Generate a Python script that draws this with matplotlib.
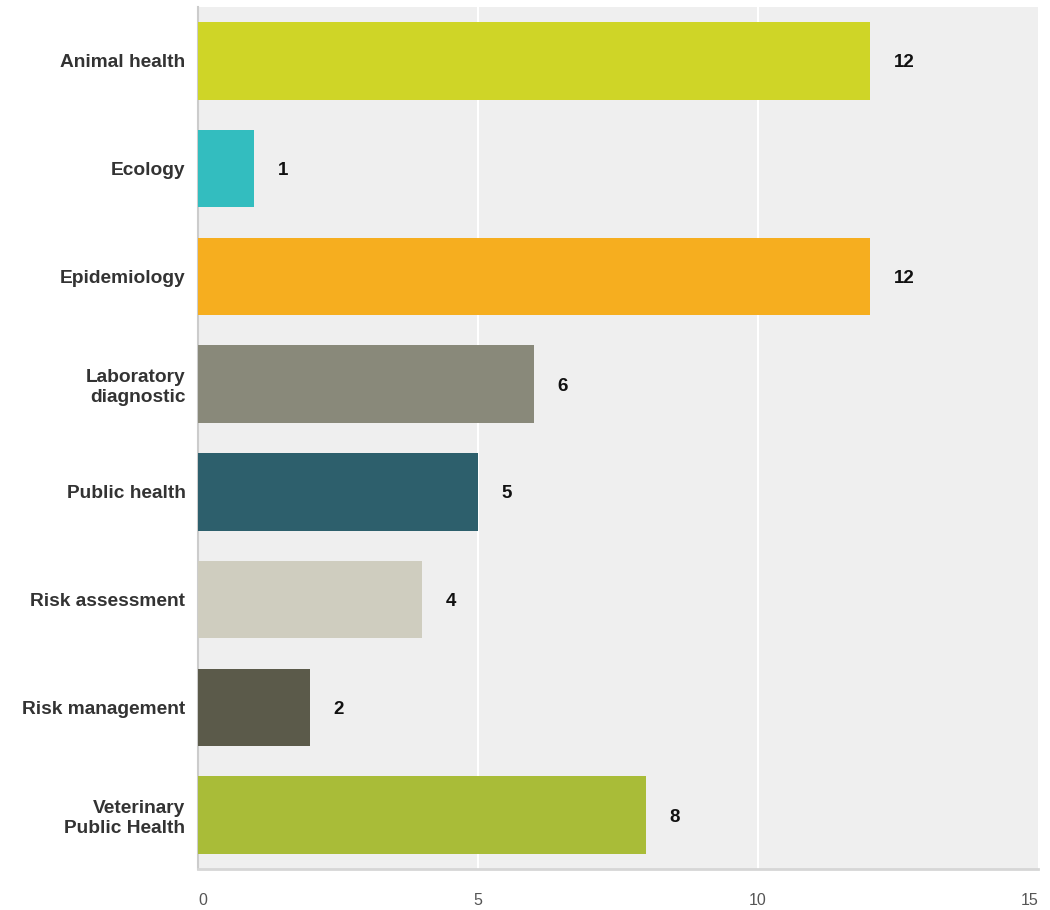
import matplotlib
matplotlib.use("Agg")
import matplotlib.pyplot as plt

categories = [
    "Animal health",
    "Ecology",
    "Epidemiology",
    "Laboratory\ndiagnostic",
    "Public health",
    "Risk assessment",
    "Risk management",
    "Veterinary\nPublic Health",
]
values = [12, 1, 12, 6, 5, 4, 2, 8]
colors = ["#CFD527", "#33BDBF", "#F6AE1F", "#89897A",
          "#2D5F6C", "#CFCDBF", "#5B5A4A", "#A9BC38"]
xticks = [0, 5, 10, 15]

plt.rcParams["font.family"] = ["Liberation Sans", "DejaVu Sans"]

fig = plt.figure(figsize=(10.5, 9.1), dpi=100)
ax = fig.add_axes([198 / 1050, 1 - 869 / 910, 840 / 1050, 862 / 910])
ax.set_facecolor("#EFEFEF")

y = list(range(len(categories)))
ax.barh(y, values, height=0.72, color=colors, zorder=3)
ax.set_ylim(len(categories) - 0.5, -0.5)
ax.set_xlim(0, 15)

for v in xticks[1:-1]:
    ax.axvline(v, color="white", lw=1.5, zorder=1)

for yi, v in zip(y, values):
    ax.annotate(str(v), (v, yi), xytext=(17, -1.5), textcoords="offset points",
                ha="left", va="center", fontsize=13.5, fontweight="bold",
                color="#111111")

ax.set_yticks(y)
ax.set_yticklabels(categories, fontsize=13.8, fontweight="bold", color="#333333",
                   linespacing=1.25)
ax.set_xticks(xticks)
ax.set_xticklabels([str(t) for t in xticks], fontsize=11.5, color="#555555")
xlabels = ax.get_xticklabels()
xlabels[0].set_ha("left")
xlabels[-1].set_ha("right")
ax.tick_params(axis="y", length=0, pad=9)
ax.tick_params(axis="x", length=0, pad=17)

for side in ("top", "right"):
    ax.spines[side].set_visible(False)
ax.spines["left"].set_color("#CCCCCC")
ax.spines["left"].set_linewidth(1.5)
ax.spines["bottom"].set_color("#D6D6D6")
ax.spines["bottom"].set_linewidth(2)

fig.savefig("out.png", dpi=100, facecolor="white")
